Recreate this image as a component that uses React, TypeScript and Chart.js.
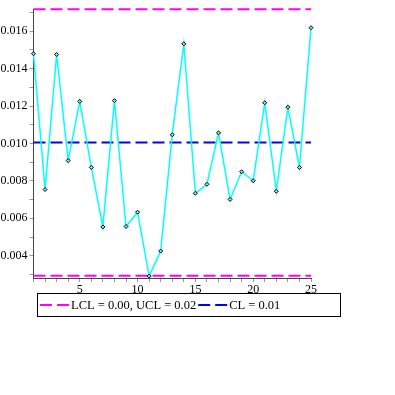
import React, { useEffect, useRef } from "react";
import { Chart, registerables } from "chart.js";

Chart.register(...registerables);

const samples = [1, 2, 3, 4, 5, 6, 7, 8, 9, 10, 11, 12, 13, 14, 15, 16, 17, 18, 19, 20, 21, 22, 23, 24, 25];
const values = [
  0.0148, 0.00754, 0.01476, 0.00909, 0.01225, 0.00872, 0.00554, 0.01229, 0.00556, 0.00633,
  0.00291, 0.00425, 0.01047, 0.01533, 0.00734, 0.00782, 0.01057, 0.00701, 0.00849, 0.00801,
  0.01218, 0.00745, 0.01194, 0.00872, 0.01619,
];
const UCL = 0.01718;
const LCL = 0.00293;
const CL = 0.01005;
const yMin = 0.00281;
const yMax = 0.01718;
const yTickValues = [0.003, 0.004, 0.005, 0.006, 0.007, 0.008, 0.009, 0.01, 0.011, 0.012, 0.013, 0.014, 0.015, 0.016, 0.017];
const yLabeled = [0.004, 0.006, 0.008, 0.01, 0.012, 0.014, 0.016];
const xLabeled = [5, 10, 15, 20, 25];
const legendLabels = ["LCL = 0.00, UCL = 0.02", "CL = 0.01"];
const legendColors = ["#ff00ff", "#0000ff"];

const FONT = "'Liberation Serif', 'Times New Roman', serif";

export default function App() {
  const ref = useRef<HTMLCanvasElement>(null);
  useEffect(() => {
    if (!ref.current) return;
    const legendPlugin = {
      id: "customLegend",
      afterDraw(chart: any) {
        const ctx = chart.ctx;
        ctx.save();
        ctx.strokeStyle = "#000";
        ctx.lineWidth = 1;
        ctx.strokeRect(37.5, 293.5, 303, 23);
        ctx.font = `12.5px ${FONT}`;
        ctx.textBaseline = "middle";
        ctx.fillStyle = "#000";
        let x = 40;
        const y = 305;
        legendLabels.forEach((lab, i) => {
          ctx.strokeStyle = legendColors[i];
          ctx.lineWidth = 2;
          ctx.setLineDash([12, 5]);
          ctx.beginPath();
          ctx.moveTo(x, y);
          ctx.lineTo(x + 29, y);
          ctx.stroke();
          ctx.setLineDash([]);
          x += 31;
          ctx.fillText(lab, x, y + 1);
          x += ctx.measureText(lab).width + 2;
        });
        ctx.restore();
      },
    };
    const chart = new Chart(ref.current, {
      type: "line",
      data: {
        datasets: [
          {
            data: samples.map((s, i) => ({ x: s, y: values[i] })),
            borderColor: "#00ffff",
            borderWidth: 1.5,
            pointStyle: "rectRot",
            pointRadius: 2,
            pointBorderColor: "#000",
            pointBackgroundColor: "#9fdfdf",
            pointBorderWidth: 1,
            order: 0,
          },
          {
            data: [{ x: 1, y: UCL }, { x: 25, y: UCL }],
            borderColor: "#ff00ff",
            borderWidth: 2,
            borderDash: [12, 5],
            pointRadius: 0,
            order: 1,
          },
          {
            data: [{ x: 1, y: LCL }, { x: 25, y: LCL }],
            borderColor: "#ff00ff",
            borderWidth: 2,
            borderDash: [12, 5],
            pointRadius: 0,
            order: 1,
          },
          {
            data: [{ x: 1, y: CL }, { x: 25, y: CL }],
            borderColor: "#0000ff",
            borderWidth: 2,
            borderDash: [12, 5],
            pointRadius: 0,
            order: 1,
          },
        ],
      },
      options: {
        animation: false,
        responsive: false,
        clip: false,
        layout: { padding: { top: 7, right: 84, left: 0, bottom: 97 } },
        plugins: { legend: { display: false }, tooltip: { enabled: false } },
        scales: {
          x: {
            type: "linear",
            min: 1,
            max: 25,
            afterFit: (s: any) => { s.height = 20; },
            afterBuildTicks: (s: any) => { s.ticks = samples.map((v) => ({ value: v })); },
            border: { color: "#444", width: 1 },
            grid: { drawOnChartArea: false, tickLength: 4, color: "#999", tickColor: "#999" },
            ticks: {
              autoSkip: false,
              maxRotation: 0,
              padding: 1,
              color: "#000",
              font: { family: FONT, size: 12 },
              callback: (v: any) => (xLabeled.includes(v) ? String(v) : ""),
            },
          },
          y: {
            type: "linear",
            min: yMin,
            max: yMax,
            afterFit: (s: any) => { s.width = 33.5; },
            afterBuildTicks: (s: any) => { s.ticks = yTickValues.map((v) => ({ value: v })); },
            border: { color: "#444", width: 1 },
            grid: { drawOnChartArea: false, tickLength: 4, color: "#999", tickColor: "#999" },
            ticks: {
              autoSkip: false,
              padding: 2,
              color: "#000",
              font: { family: FONT, size: 12 },
              callback: (v: any) => {
                const hit = yLabeled.find((t) => Math.abs(t - v) < 1e-9);
                return hit !== undefined ? hit.toFixed(3) : "";
              },
            },
          },
        },
      },
      plugins: [legendPlugin],
    });
    return () => chart.destroy();
  }, []);
  return (
    <div style={{ position: "absolute", left: 0, top: 0, width: 395, height: 395, background: "#fff" }}>
      <canvas ref={ref} width={395} height={395} />
    </div>
  );
}
